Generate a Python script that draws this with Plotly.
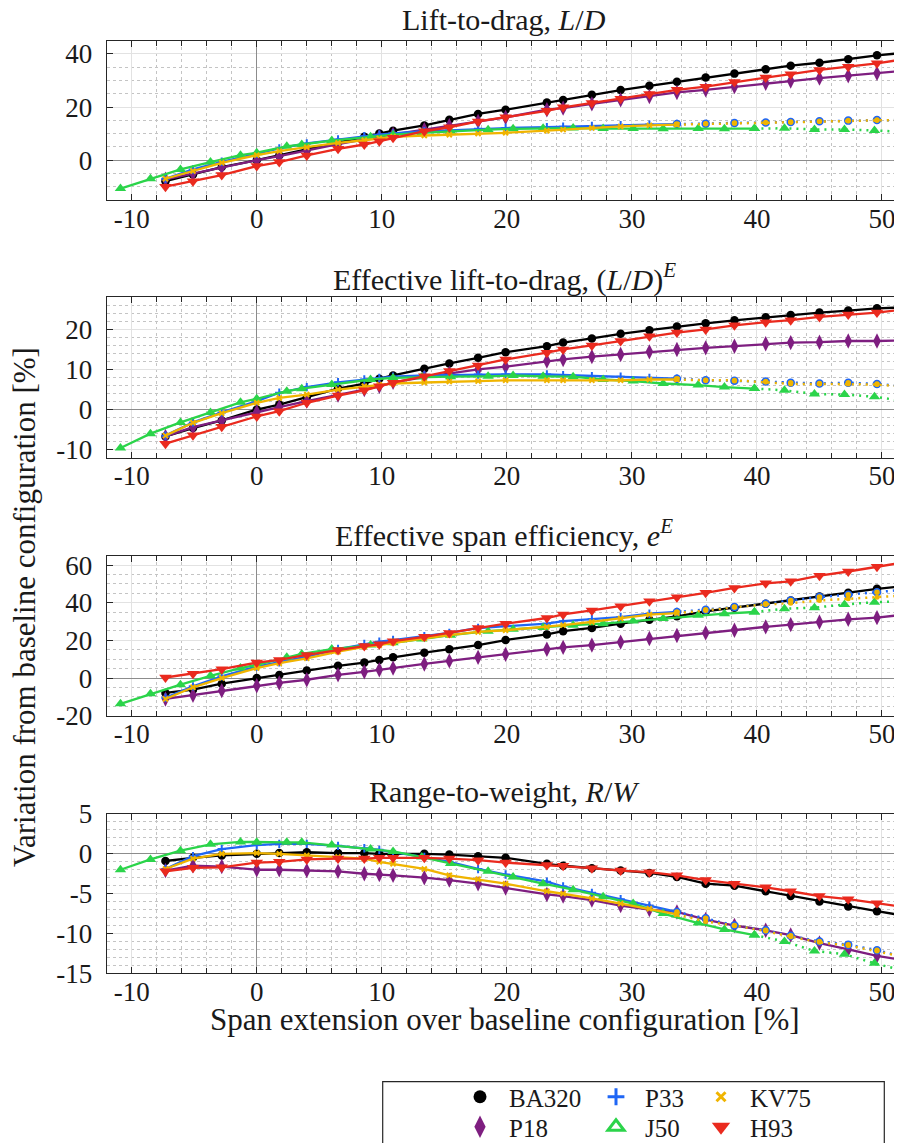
import plotly.graph_objects as go

# The page adds an 8 px body margin, so the figure is drawn 8 px in from the
# top-left corner of the 902x1143 window.
PAGE_OFF = 8
W, H = 902 - PAGE_OFF, 1143 - PAGE_OFF

# ---------------- data ----------------
x_span = [-7.3, -5.1, -2.8, 0.0, 1.8, 4.0, 6.5, 8.6, 9.8, 10.9, 13.4, 15.4, 17.7, 19.9,
          23.2, 24.5, 26.8, 29.1, 31.4, 33.6, 35.9, 38.2, 40.7, 42.7, 45.0, 47.3, 49.6, 51.9]
x_span_j50 = [-10.9, -8.5, -6.1, -3.7, -1.3, 0.0, 2.4, 3.6, 6.0, 9.1, 10.9, 13.2, 15.5, 18.5,
              20.5, 22.9, 25.3, 27.7, 30.1, 32.5, 35.3, 37.4, 39.8, 42.2, 44.6, 47.0, 49.4, 51.8]

# Lift-to-drag L/D [%]
ld_BA320 = [-7.9, -5.4, -2.6, 0.0, 1.8, 4.0, 6.6, 8.8, 10.0, 11.1, 13.1, 15.2, 17.4, 19.0,
            21.7, 22.7, 24.6, 26.4, 28.0, 29.5, 31.1, 32.6, 34.2, 35.6, 36.7, 38.0, 39.5, 40.5]
ld_P18 = [-7.2, -5.0, -2.6, 0.0, 1.5, 3.7, 6.0, 7.8, 8.8, 9.7, 11.5, 13.0, 14.6, 16.1,
          19.0, 19.6, 21.2, 22.7, 24.0, 25.5, 26.5, 27.7, 29.0, 29.8, 30.9, 31.8, 32.7, 33.7]
ld_P33 = [-7.0, -3.5, -0.6, 2.4, 4.4, 6.3, 7.8, 9.0, 9.6, 10.1, 10.9, 11.2, 11.8, 12.1,
          12.4, 12.6, 12.9, 13.2, 13.4, 13.6, 13.7, 14.0, 14.2, 14.4, 14.7, 14.9, 15.1, 15.2]
ld_J50 = [-10.7, -7.0, -3.5, -0.7, 1.9, 2.8, 5.2, 5.9, 7.4, 8.8, 9.6, 10.3, 10.9, 11.5,
          11.8, 12.0, 12.1, 11.9, 11.9, 11.8, 11.9, 11.8, 11.9, 12.0, 11.6, 11.6, 11.2, 10.6]
ld_KV75 = [-7.0, -4.1, -1.0, 1.9, 3.4, 4.9, 6.5, 7.5, 8.2, 8.8, 9.3, 9.6, 10.0, 10.3,
           11.1, 11.5, 12.1, 12.7, 13.1, 13.4, 13.7, 13.9, 14.1, 14.3, 14.6, 14.8, 15.0, 15.1]
ld_H93 = [-10.0, -7.9, -5.6, -2.2, -0.7, 1.8, 4.3, 5.9, 7.1, 8.4, 10.9, 12.4, 14.6, 16.2,
          18.6, 19.9, 21.5, 23.1, 24.9, 26.5, 27.7, 29.4, 31.1, 32.4, 34.0, 35.2, 36.5, 38.1]

# Effective lift-to-drag (L/D)^E [%]
ldE_BA320 = [-6.7, -4.6, -2.7, 0.0, 1.25, 3.1, 5.25, 6.5, 7.7, 8.5, 10.2, 11.5, 12.9, 14.3,
             15.8, 16.7, 17.75, 18.9, 19.8, 20.7, 21.5, 22.25, 23.0, 23.6, 24.2, 24.7, 25.25, 25.5]
ldE_P18 = [-6.7, -4.4, -2.7, -0.6, 0.6, 2.1, 3.6, 5.0, 5.8, 6.8, 8.1, 9.0, 10.0, 10.7,
           12.1, 12.5, 13.2, 13.75, 14.4, 15.0, 15.4, 15.8, 16.4, 16.7, 16.8, 17.1, 17.1, 17.25]
ldE_P33 = [-6.5, -3.2, -0.7, 2.1, 4.2, 5.6, 6.8, 7.5, 7.9, 8.2, 8.5, 8.6, 8.75, 8.75,
           8.75, 8.6, 8.3, 8.2, 7.9, 7.7, 7.3, 7.2, 7.0, 6.7, 6.5, 6.7, 6.4, 5.8]
ldE_J50 = [-9.6, -6.0, -3.2, -0.7, 1.8, 2.7, 4.6, 5.2, 6.25, 7.5, 7.9, 8.1, 8.2, 8.3,
           8.5, 8.3, 8.2, 7.5, 7.1, 6.5, 6.1, 5.6, 5.25, 4.8, 3.9, 3.75, 3.2, 2.1]
ldE_KV75 = [-6.5, -3.3, -0.9, 1.7, 2.9, 3.75, 5.0, 5.8, 6.2, 6.5, 6.75, 7.0, 7.1, 7.3,
            7.3, 7.3, 7.3, 7.3, 7.5, 7.5, 7.3, 7.3, 6.9, 6.4, 6.4, 6.4, 6.25, 5.7]
ldE_H93 = [-8.5, -6.4, -4.3, -1.7, -0.4, 1.7, 3.5, 4.8, 5.8, 6.7, 8.3, 9.6, 11.0, 12.5,
           14.2, 15.0, 16.0, 17.1, 18.3, 19.2, 20.0, 21.0, 21.8, 22.3, 23.1, 23.7, 24.2, 25.0]

# Effective span efficiency e^E [%]
eE_BA320 = [-7.9, -6.2, -3.0, 0.0, 1.6, 4.0, 6.5, 8.2, 9.6, 11.0, 13.5, 15.3, 17.5, 20.2,
            23.2, 24.9, 26.6, 28.9, 31.0, 32.8, 35.4, 37.4, 39.5, 41.2, 43.3, 45.3, 47.4, 48.9]
eE_P18 = [-11.1, -9.1, -6.7, -4.1, -2.6, -0.9, 1.7, 3.3, 4.4, 5.3, 7.5, 9.1, 11.0, 12.6,
          15.3, 16.3, 17.5, 19.1, 21.0, 22.6, 24.0, 25.4, 27.2, 28.4, 29.8, 31.2, 32.1, 33.8]
eE_P33 = [-10.5, -4.4, 0.9, 6.1, 8.4, 11.4, 15.4, 18.1, 19.3, 20.2, 22.3, 24.0, 26.6, 27.5,
          28.9, 30.2, 31.2, 32.4, 34.2, 35.1, 36.3, 37.7, 39.5, 41.2, 43.0, 44.3, 45.6, 47.0]
eE_J50 = [-13.7, -8.4, -3.5, 1.2, 5.3, 7.0, 11.0, 12.8, 15.4, 17.5, 18.7, 20.7, 22.8, 24.9,
          25.9, 26.8, 28.1, 28.9, 30.3, 31.6, 33.3, 34.2, 35.1, 36.8, 37.4, 39.1, 40.3, 40.8]
eE_KV75 = [-11.1, -4.9, 0.0, 5.3, 7.9, 10.5, 14.0, 16.6, 17.5, 18.7, 21.1, 22.8, 24.5, 25.4,
           27.2, 28.1, 29.8, 31.6, 33.7, 34.5, 35.9, 37.7, 39.1, 39.8, 41.2, 42.1, 42.9, 43.9]
eE_H93 = [0.3, 2.3, 4.7, 8.2, 9.6, 12.3, 14.9, 17.0, 17.9, 19.6, 21.9, 24.0, 26.6, 28.9,
          31.9, 33.8, 35.9, 38.2, 40.8, 42.9, 45.3, 47.9, 50.3, 51.4, 54.4, 56.6, 59.1, 61.6]

# Range-to-weight R/W [%]
rw_BA320 = [-0.9, -0.5, -0.2, 0.0, 0.1, 0.2, 0.1, 0.1, 0.0, 0.0, 0.0, -0.1, -0.3, -0.5,
            -1.25, -1.5, -1.8, -2.1, -2.4, -2.9, -3.75, -4.0, -4.7, -5.3, -6.0, -6.6, -7.2, -7.8]
rw_P18 = [-2.1, -1.5, -1.6, -2.0, -2.0, -2.1, -2.2, -2.5, -2.6, -2.7, -3.0, -3.3, -3.75, -4.3,
          -5.1, -5.3, -5.8, -6.5, -7.0, -7.3, -8.25, -9.0, -9.6, -10.2, -11.2, -12.0, -12.8, -13.4]
rw_P33 = [-1.9, -0.3, 0.6, 1.1, 1.25, 1.25, 1.0, 0.7, 0.5, 0.2, -0.4, -1.0, -1.9, -2.6,
          -3.5, -4.1, -4.9, -5.7, -6.5, -7.3, -8.1, -9.0, -9.6, -10.3, -11.0, -11.4, -12.1, -13.0]
rw_J50 = [-2.0, -0.7, 0.4, 1.2, 1.5, 1.45, 1.45, 1.45, 1.1, 0.6, 0.3, -0.4, -1.2, -2.2,
          -2.9, -3.75, -4.5, -5.4, -6.25, -7.5, -8.7, -9.5, -10.2, -11.0, -12.2, -12.6, -13.75, -14.7]
rw_KV75 = [-1.9, -0.6, 0.0, 0.1, 0.0, -0.2, -0.4, -0.6, -1.0, -1.25, -1.9, -2.7, -3.2, -3.75,
           -4.7, -5.0, -5.6, -6.25, -6.9, -7.6, -8.5, -9.0, -9.7, -10.4, -11.1, -11.5, -12.2, -13.0]
rw_H93 = [-2.2, -1.75, -1.7, -1.1, -1.0, -0.7, -0.6, -0.6, -0.5, -0.5, -0.5, -0.6, -0.8, -1.1,
          -1.4, -1.5, -1.8, -2.1, -2.3, -2.7, -3.3, -3.75, -4.2, -4.7, -5.3, -5.7, -6.2, -6.7]

series_names = ["BA320", "P18", "P33", "J50", "KV75", "H93"]
panel_titles = ["Lift-to-drag, <i>L</i>/<i>D</i>",
                "Effective lift-to-drag, (<i>L</i>/<i>D</i>)<sup><i>E</i></sup>",
                "Effective span efficiency, <i>e</i><sup><i>E</i></sup>",
                "Range-to-weight, <i>R</i>/<i>W</i>"]
x_tickvals = [-10, 0, 10, 20, 30, 40, 50]
x_ticktext = ["-10", "0", "10", "20", "30", "40", "50"]
y_tickvals = [[0, 20, 40], [-10, 0, 10, 20], [-20, 0, 20, 40, 60], [-15, -10, -5, 0, 5]]
y_ticktext = [["0", "20", "40"], ["-10", "0", "10", "20"], ["-20", "0", "20", "40", "60"],
              ["-15", "-10", "-5", "0", "5"]]
x_label = "Span extension over baseline configuration [%]"
y_label = "Variation from baseline configuration [%]"

panel_data = [
    {"BA320": ld_BA320, "P18": ld_P18, "P33": ld_P33, "J50": ld_J50, "KV75": ld_KV75, "H93": ld_H93},
    {"BA320": ldE_BA320, "P18": ldE_P18, "P33": ldE_P33, "J50": ldE_J50, "KV75": ldE_KV75, "H93": ldE_H93},
    {"BA320": eE_BA320, "P18": eE_P18, "P33": eE_P33, "J50": eE_J50, "KV75": eE_KV75, "H93": eE_H93},
    {"BA320": rw_BA320, "P18": rw_P18, "P33": rw_P33, "J50": rw_J50, "KV75": rw_KV75, "H93": rw_H93},
]

# ---------------- styles ----------------
colors = {"BA320": "#000000", "P18": "#7E1E80", "P33": "#1F66F5", "J50": "#2BD44A",
          "KV75": "#F0B400", "H93": "#EA2A1E"}
markers = {
    "BA320": dict(symbol="circle", size=8.5),
    "P18": dict(symbol="diamond-tall", size=11),
    "P33": dict(symbol="cross-thin", size=6),
    "J50": dict(symbol="triangle-up", size=10),
    "KV75": dict(symbol="x-thin", size=5),
    "H93": dict(symbol="triangle-down", size=11),
}
split_index = {"P33": 19, "KV75": 19, "J50": 22}
x_of = {"J50": x_span_j50}

FONT = "Liberation Serif"
TXT = "#1a1a1a"
y_ranges = [[-15, 45], [-12, 28], [-20, 65], [-15, 5]]
y_minor = [5, 2, 5, 1]
# geometry in window pixels (as in the reference picture)
frames = [(40.7, 200.0), (297.3, 457.7), (555.7, 715.7), (814.0, 973.3)]
title_y = [19, 277, 533, 791]
x_left_px = 106.7
x_right_px = 902


def px(xw):
    return (xw - PAGE_OFF) / W


def py(yw):
    return 1 - (yw - PAGE_OFF) / H


fig = go.Figure()


def mk(c, spec, thin):
    m = dict(symbol=spec["symbol"], size=spec["size"], color=c)
    m["line"] = dict(color=c, width=2 if thin else 0)
    return m


for p in range(4):
    xa = "x" if p == 0 else f"x{p+1}"
    ya = "y" if p == 0 else f"y{p+1}"
    for name in series_names:
        xs = x_of.get(name, x_span)
        ys = panel_data[p][name]
        c = colors[name]
        thin = name in ("P33", "KV75")
        if name in split_index:
            k = split_index[name]
            fig.add_trace(go.Scatter(x=xs[:k + 1], y=ys[:k + 1], mode="lines+markers",
                                     line=dict(color=c, width=2.3),
                                     marker=mk(c, markers[name], thin),
                                     showlegend=False, xaxis=xa, yaxis=ya, hoverinfo="skip"))
            if name == "J50":
                dm = mk(c, markers[name], False)
            elif name == "P33":
                dm = dict(symbol="circle", size=7, color="#F0B400", line=dict(color=c, width=1.5))
            else:
                dm = dict(symbol="circle", size=5, color=c, line=dict(color=c, width=0))
            fig.add_trace(go.Scatter(x=xs[k:], y=ys[k:], mode="lines+markers",
                                     line=dict(color=c, width=2.5, dash="2px,5px"),
                                     marker=dm, showlegend=False, xaxis=xa, yaxis=ya,
                                     hoverinfo="skip"))
        else:
            fig.add_trace(go.Scatter(x=xs, y=ys, mode="lines+markers",
                                     line=dict(color=c, width=2.3),
                                     marker=mk(c, markers[name], thin),
                                     showlegend=False, xaxis=xa, yaxis=ya, hoverinfo="skip"))

# legend entries (markers only), one small legend per entry (3 columns x 2 rows)
legend_markers = {
    "BA320": dict(symbol="circle", size=13, color=colors["BA320"]),
    "P18": dict(symbol="diamond-tall", size=19, color=colors["P18"]),
    "P33": dict(symbol="cross-thin", size=12, color=colors["P33"], line=dict(color=colors["P33"], width=3)),
    "J50": dict(symbol="triangle-up-open", size=14, color=colors["J50"], line=dict(color=colors["J50"], width=3)),
    "KV75": dict(symbol="x-thin", size=9, color=colors["KV75"], line=dict(color=colors["KV75"], width=3)),
    "H93": dict(symbol="triangle-down", size=16, color=colors["H93"]),
}
legend_order = ["BA320", "P33", "KV75", "P18", "J50", "H93"]
legend_ids = ["legend", "legend2", "legend3", "legend4", "legend5", "legend6"]
legend_col_px = [451, 587, 692]
legend_row_px = [1097, 1127]
for i, name in enumerate(legend_order):
    fig.add_trace(go.Scatter(x=[None], y=[None], mode="markers", name=name,
                             marker=legend_markers[name], legend=legend_ids[i], showlegend=True))

layout = dict(width=W, height=H, margin=dict(l=0, r=0, t=0, b=0, autoexpand=False),
              paper_bgcolor="white", plot_bgcolor="white",
              font=dict(family=FONT, size=26, color=TXT))

for p in range(4):
    top, bot = frames[p]
    xk = "xaxis" if p == 0 else f"xaxis{p+1}"
    yk = "yaxis" if p == 0 else f"yaxis{p+1}"
    ya = "y" if p == 0 else f"y{p+1}"
    xa = "x" if p == 0 else f"x{p+1}"
    layout[xk] = dict(domain=[px(x_left_px), min(1.0, px(x_right_px))], range=[-12, 51.6], anchor=ya,
                      tickmode="array", tickvals=x_tickvals, ticktext=x_ticktext,
                      ticks="inside", ticklen=6, tickwidth=1, tickcolor="#262626",
                      showline=True, linecolor="#262626", linewidth=1.2, mirror="allticks",
                      showgrid=True, gridcolor="#e2e2e2", gridwidth=1.2,
                      zeroline=True, zerolinecolor="#8c8c8c", zerolinewidth=1.2,
                      tickfont=dict(family=FONT, size=27, color=TXT), ticklabelstandoff=-6,
                      automargin=False,
                      minor=dict(dtick=2, tick0=0, ticks="inside", ticklen=5, tickcolor="#262626",
                                 showgrid=True, gridcolor="#c4c4c4", griddash="dot", gridwidth=1))
    layout[yk] = dict(domain=[py(bot), py(top)], range=y_ranges[p], anchor=xa,
                      tickmode="array", tickvals=y_tickvals[p], ticktext=y_ticktext[p],
                      ticks="inside", ticklen=6, tickwidth=1, tickcolor="#262626",
                      showline=True, linecolor="#262626", linewidth=1.2, mirror="allticks",
                      showgrid=True, gridcolor="#e2e2e2", gridwidth=1.2,
                      zeroline=True, zerolinecolor="#8c8c8c", zerolinewidth=1.2,
                      tickfont=dict(family=FONT, size=27, color=TXT), ticklabelstandoff=8,
                      automargin=False,
                      minor=dict(dtick=y_minor[p], tick0=0, showgrid=True, gridcolor="#c4c4c4",
                                 griddash="dot", gridwidth=1))

annotations = []
for p in range(4):
    annotations.append(dict(text=panel_titles[p], x=px((x_left_px + x_right_px) / 2), y=py(title_y[p]),
                            xref="paper", yref="paper", xanchor="center", yanchor="middle",
                            showarrow=False, font=dict(family=FONT, size=30, color=TXT)))
annotations.append(dict(text=x_label, x=px(505), y=py(1019), xref="paper", yref="paper",
                        xanchor="center", yanchor="middle", showarrow=False,
                        font=dict(family=FONT, size=31, color=TXT)))
annotations.append(dict(text=y_label, x=px(24), y=py(607), xref="paper", yref="paper",
                        xanchor="center", yanchor="middle", textangle=-90, showarrow=False,
                        font=dict(family=FONT, size=31, color=TXT)))
layout["annotations"] = annotations

layout["shapes"] = [dict(type="rect", xref="paper", yref="paper",
                         x0=px(382.7), x1=px(884.3), y0=py(1081.7), y1=py(1160),
                         line=dict(color="#262626", width=1.2), fillcolor="rgba(0,0,0,0)")]

for i, lg in enumerate(legend_ids):
    col, row = i % 3, i // 3
    layout[lg] = dict(x=px(legend_col_px[col]), y=py(legend_row_px[row]),
                      xanchor="left", yanchor="middle",
                      orientation="v", bgcolor="rgba(0,0,0,0)", borderwidth=0,
                      itemwidth=48, font=dict(family=FONT, size=25, color=TXT))

fig.update_layout(**layout)
fig.write_html("out.html")
